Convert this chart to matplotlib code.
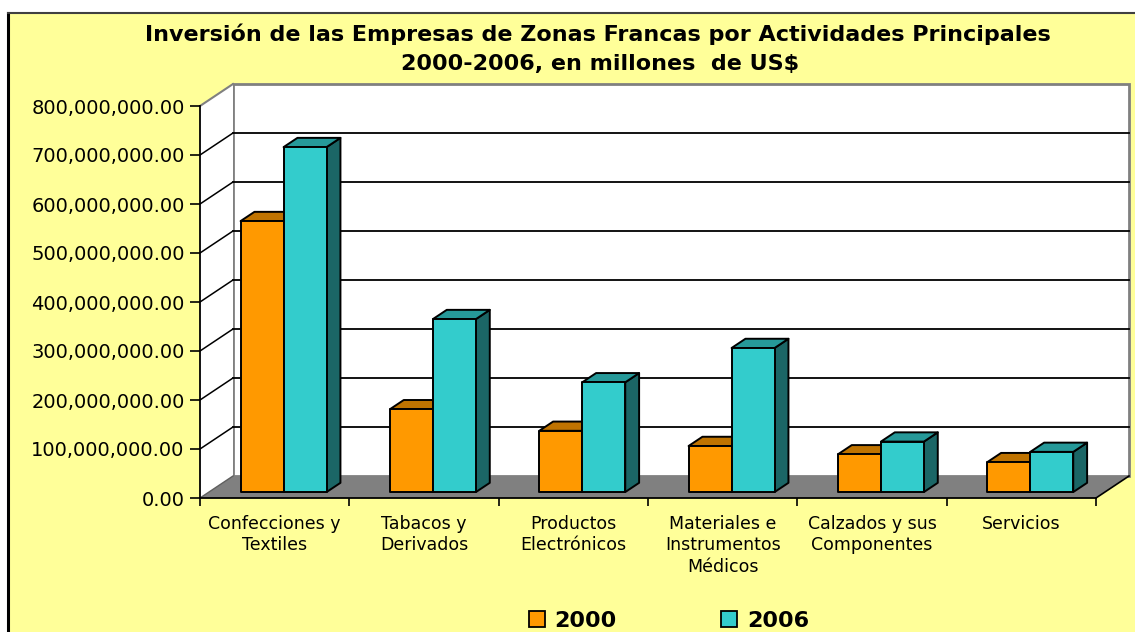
import matplotlib
matplotlib.use("Agg")
import matplotlib.pyplot as plt
from matplotlib.patches import Polygon, Rectangle, Patch
from matplotlib.lines import Line2D

# Data (US$)
categories = ["Confecciones y\nTextiles", "Tabacos y\nDerivados", "Productos\nElectrónicos",
              "Materiales e\nInstrumentos\nMédicos", "Calzados y sus\nComponentes", "Servicios"]
inv_2000 = [553e6, 169e6, 125e6, 94e6, 77e6, 61e6]
inv_2006 = [704e6, 353e6, 224e6, 294e6, 103e6, 82e6]
series_names = ["2000", "2006"]
yticks = [i * 100e6 for i in range(9)]

title1 = "Inversión de las Empresas de Zonas Francas por Actividades Principales"
title2 = "2000-2006, en millones  de US$"

W, H = 1135, 632
BG = "#FFFF99"
faces = {
    "2000": ("#FF9900", "#BF7300", "#8C5500"),
    "2006": ("#33CCCC", "#269999", "#1B6666"),
}


def main():
    fig = plt.figure(figsize=(W / 100, H / 100), dpi=100)
    fig.patch.set_facecolor("white")

    # Chart area background and border
    fig.patches.append(Rectangle((8 / W, 0), 1 - 8 / W, 1 - 13 / H, transform=fig.transFigure,
                                 facecolor=BG, edgecolor="none", zorder=-5))
    fig.lines.append(Line2D([8 / W, 8 / W], [0, 1 - 13 / H], transform=fig.transFigure,
                            color="black", lw=2.2, zorder=-4))
    fig.lines.append(Line2D([8 / W, 1], [1 - 13 / H, 1 - 13 / H], transform=fig.transFigure,
                            color="#404040", lw=1.5, zorder=-4))

    # Titles
    fig.text(598 / W, 1 - 41 / H, title1, ha="center", va="baseline",
             fontsize=16, fontweight="bold", family="DejaVu Sans")
    fig.text(600 / W, 1 - 70 / H, title2, ha="center", va="baseline",
             fontsize=16, fontweight="bold", family="DejaVu Sans")

    # Front frame of the 3D chart
    ax = fig.add_axes([200 / W, 1 - 498 / H, 896 / W, 392 / H])
    ax.set_facecolor("none")
    n = len(categories)
    ymax = yticks[-1]
    ax.set_xlim(0, n)
    ax.set_ylim(0, ymax)

    # depth of the 3D box in data units
    DX = 33 / 896 * n
    DY = 22 / 392 * ymax

    # back wall, side wall, floor
    ax.add_patch(Polygon([(DX, DY), (n + DX, DY), (n + DX, ymax + DY), (DX, ymax + DY)],
                         facecolor="white", edgecolor="#808080", lw=2, clip_on=False, zorder=0))
    ax.add_patch(Polygon([(0, 0), (DX, DY), (DX, ymax + DY), (0, ymax)],
                         facecolor="white", edgecolor="none", clip_on=False, zorder=0))
    ax.plot([0, DX], [ymax, ymax + DY], color="#808080", lw=1.5, clip_on=False, zorder=1)
    ax.add_patch(Polygon([(0, 0), (n, 0), (n + DX, DY), (DX, DY)],
                         facecolor="#808080", edgecolor="none", clip_on=False, zorder=1))
    ax.plot([n, n + DX], [0, DY], color="black", lw=1.2, clip_on=False, zorder=2)
    ax.plot([0, DX], [0, DY], color="#606060", lw=1, clip_on=False, zorder=2)

    # gridlines on walls
    for v in yticks[1:-1]:
        ax.plot([DX, n + DX], [v + DY, v + DY], color="black", lw=1.3, clip_on=False, zorder=1)
        ax.plot([0, DX], [v, v + DY], color="black", lw=1.1, clip_on=False, zorder=1)

    # bars
    w = 0.288
    fz, bz = 0.27, 0.42  # front plane depth and bar depth (fractions of box depth)
    ox, oy = fz * DX, fz * DY
    bx, by = bz * DX, bz * DY
    for i in range(n):
        c = i + 0.5
        for j, (name, vals) in enumerate(zip(series_names, [inv_2000, inv_2006])):
            front, top, side = faces[name]
            x0 = c - w + j * w + ox
            x1 = x0 + w
            v = vals[i] + oy
            kw = dict(edgecolor="black", lw=1.4, joinstyle="round", zorder=3 + j)
            ax.add_patch(Polygon([(x1, oy), (x1 + bx, oy + by), (x1 + bx, v + by), (x1, v)],
                                 facecolor=side, **kw))
            ax.add_patch(Polygon([(x0, v), (x1, v), (x1 + bx, v + by), (x0 + bx, v + by)],
                                 facecolor=top, **kw))
            ax.add_patch(Rectangle((x0, oy), w, vals[i], facecolor=front, **kw))

    # axes and ticks
    for s in ["top", "right"]:
        ax.spines[s].set_visible(False)
    for s in ["left", "bottom"]:
        ax.spines[s].set_color("black")
        ax.spines[s].set_linewidth(1.3)
        ax.spines[s].set_zorder(6)
    ax.set_yticks(yticks)
    ax.set_yticklabels([f"{v:,.2f}" for v in yticks], fontsize=14, family="DejaVu Sans")
    ax.tick_params(axis="y", length=7, width=1.2, pad=4, direction="out")
    ax.set_xticks(range(n + 1))
    ax.set_xticklabels([])
    ax.set_xticks([i + 0.5 for i in range(n)], minor=True)
    ax.set_xticklabels(categories, minor=True, fontsize=12.5, family="DejaVu Sans",
                       linespacing=1.25)
    ax.tick_params(axis="x", which="major", length=6, width=1.2, direction="out")
    ax.tick_params(axis="x", which="minor", length=0, pad=12)

    # legend
    handles = [Patch(facecolor=faces[s][0], edgecolor="black", lw=1.3) for s in series_names]
    fig.legend(handles, series_names, loc="center", bbox_to_anchor=(669 / W, 1 - 621 / H),
               ncol=2, frameon=False, prop={"family": "DejaVu Sans", "weight": "bold", "size": 16},
               handlelength=0.72, handleheight=0.72, handletextpad=0.45, columnspacing=4.7)

    fig.savefig("out.png", dpi=100, facecolor=fig.get_facecolor())


if __name__ == "__main__":
    main()
